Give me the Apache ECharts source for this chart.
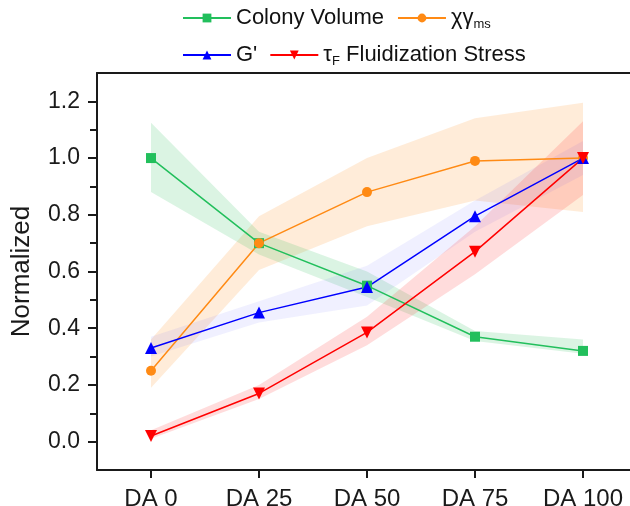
<!DOCTYPE html>
<html>
<head>
<meta charset="utf-8">
<script src="https://cdn.jsdelivr.net/npm/echarts@6/dist/echarts.min.js"></script>
<style>
  html, body { margin: 0; padding: 0; background: #fff; }
  #chart { width: 630px; height: 506px; }
</style>
</head>
<body>
<div id="chart"></div>
<script>
var categories = ['DA 0', 'DA 25', 'DA 50', 'DA 75', 'DA 100'];

var colonyVolume = [1.0, 0.70, 0.55, 0.37, 0.32];
var colonyLow = [0.88, 0.66, 0.51, 0.355, 0.31];
var colonyHigh = [1.125, 0.74, 0.60, 0.39, 0.36];

var chiGamma = [0.25, 0.70, 0.88, 0.99, 1.0];
var chiLow = [0.19, 0.605, 0.76, 0.85, 0.81];
var chiHigh = [0.36, 0.795, 1.0, 1.14, 1.195];

var gPrime = [0.33, 0.455, 0.545, 0.795, 1.0];
var gLow = [0.30, 0.42, 0.48, 0.74, 0.94];
var gHigh = [0.37, 0.495, 0.62, 0.85, 1.06];

var tauF = [0.02, 0.17, 0.385, 0.67, 1.0];
var tauLow = [0.01, 0.15, 0.34, 0.59, 0.87];
var tauHigh = [0.04, 0.20, 0.44, 0.76, 1.13];

var yTicks = [0, 0.2, 0.4, 0.6, 0.8, 1.0, 1.2];
var yMinorTicks = [0.1, 0.3, 0.5, 0.7, 0.9, 1.1];

var downTriangle = 'path://M0,0 L10,0 L5,9 Z';
var font = '"Liberation Sans", Arial, sans-serif';

// shaded band between low and high, one polygon per series
function band(lo, hi, color) {
    return {
        type: 'custom',
        silent: true,
        data: lo.map(function (v, i) { return [i, v, hi[i]]; }),
        encode: { x: 0, y: [1, 2] },
        renderItem: function (params, api) {
            if (params.dataIndex !== 0) return null;
            var pts = [];
            for (var i = 0; i < hi.length; i++) pts.push(api.coord([i, hi[i]]));
            for (var j = lo.length - 1; j >= 0; j--) pts.push(api.coord([j, lo[j]]));
            return {
                type: 'polygon',
                shape: { points: pts },
                style: { fill: color }
            };
        },
        z: 1
    };
}

function line(name, data, color, symbol, size) {
    return {
        name: name,
        type: 'line',
        data: data,
        symbol: symbol,
        symbolSize: size,
        itemStyle: { color: color },
        lineStyle: { color: color, width: 1.5 },
        z: 3
    };
}

var legendText = {
    'Colony Volume': 'Colony Volume',
    'χγms': 'χγ{sub|ms}',
    "G'": "G'",
    'τF Fluidization Stress': 'τ{sub|F} Fluidization Stress'
};
var legendStyle = {
    fontFamily: font,
    fontSize: 22,
    color: '#111',
    rich: {
        sub: { fontSize: 13, fontFamily: font, color: '#111', padding: [12, 0, 0, 0] }
    }
};

var chart = echarts.init(document.getElementById('chart'));
var option = {
    animation: false,
    backgroundColor: '#fff',
    legend: [
        {
            data: ['Colony Volume', 'χγms'],
            left: 182, top: 7, padding: 0,
            itemWidth: 48, itemHeight: 11, itemGap: 13,
            textStyle: legendStyle,
            formatter: function (n) { return legendText[n]; }
        },
        {
            data: ["G'", 'τF Fluidization Stress'],
            left: 182, top: 44, padding: 0,
            itemWidth: 48, itemHeight: 11, itemGap: 12,
            textStyle: legendStyle,
            formatter: function (n) { return legendText[n]; }
        }
    ],
    grid: { left: 97, top: 73, width: 540, bottom: 36, outerBoundsMode: 'none', containLabel: false },
    xAxis: [
        {
            type: 'category',
            data: categories,
            boundaryGap: true,
            axisLine: { show: true, onZero: false, lineStyle: { color: '#1a1a1a', width: 2 } },
            axisTick: { show: true, inside: false, alignWithLabel: true, length: 8, lineStyle: { width: 2, color: '#1a1a1a' } },
            axisLabel: { fontFamily: font, fontSize: 24, color: '#1a1a1a', margin: 17 },
            splitLine: { show: false }
        },
        {
            type: 'category',
            data: categories,
            position: 'top',
            axisLine: { show: true, onZero: false, lineStyle: { color: '#1a1a1a', width: 2 } },
            axisTick: { show: false },
            axisLabel: { show: false }
        }
    ],
    yAxis: [
        {
            type: 'value',
            min: -0.1, max: 1.3,
            name: 'Normalized',
            nameLocation: 'middle',
            nameGap: 62,
            nameTextStyle: { fontFamily: font, fontSize: 26, color: '#1a1a1a' },
            axisLine: { show: true, onZero: false, lineStyle: { color: '#1a1a1a', width: 2 } },
            axisTick: { show: true, inside: false, length: 9, customValues: yTicks, lineStyle: { width: 2, color: '#1a1a1a' } },
            axisLabel: {
                customValues: yTicks,
                fontFamily: font, fontSize: 23, color: '#1a1a1a', margin: 17,
                formatter: function (v) { return v.toFixed(1); }
            },
            splitLine: { show: false }
        },
        {
            type: 'value',
            min: -0.1, max: 1.3,
            position: 'left',
            axisLine: { show: false, onZero: false },
            axisTick: { show: true, inside: false, length: 7, customValues: yMinorTicks, lineStyle: { width: 2, color: '#1a1a1a' } },
            axisLabel: { show: false },
            splitLine: { show: false }
        }
    ],
    series: [
        band(chiLow, chiHigh, 'rgba(255,140,30,0.17)'),
        band(colonyLow, colonyHigh, 'rgba(40,190,90,0.17)'),
        band(gLow, gHigh, 'rgba(90,90,255,0.09)'),
        band(tauLow, tauHigh, 'rgba(255,50,50,0.17)'),
        line('Colony Volume', colonyVolume, '#22bf5c', 'rect', 10),
        line('χγms', chiGamma, '#ff8a14', 'circle', 10),
        line("G'", gPrime, '#0000ff', 'triangle', 12),
        line('τF Fluidization Stress', tauF, '#ff0000', downTriangle, 12)
    ]
};
chart.setOption(option);
</script>
</body>
</html>
